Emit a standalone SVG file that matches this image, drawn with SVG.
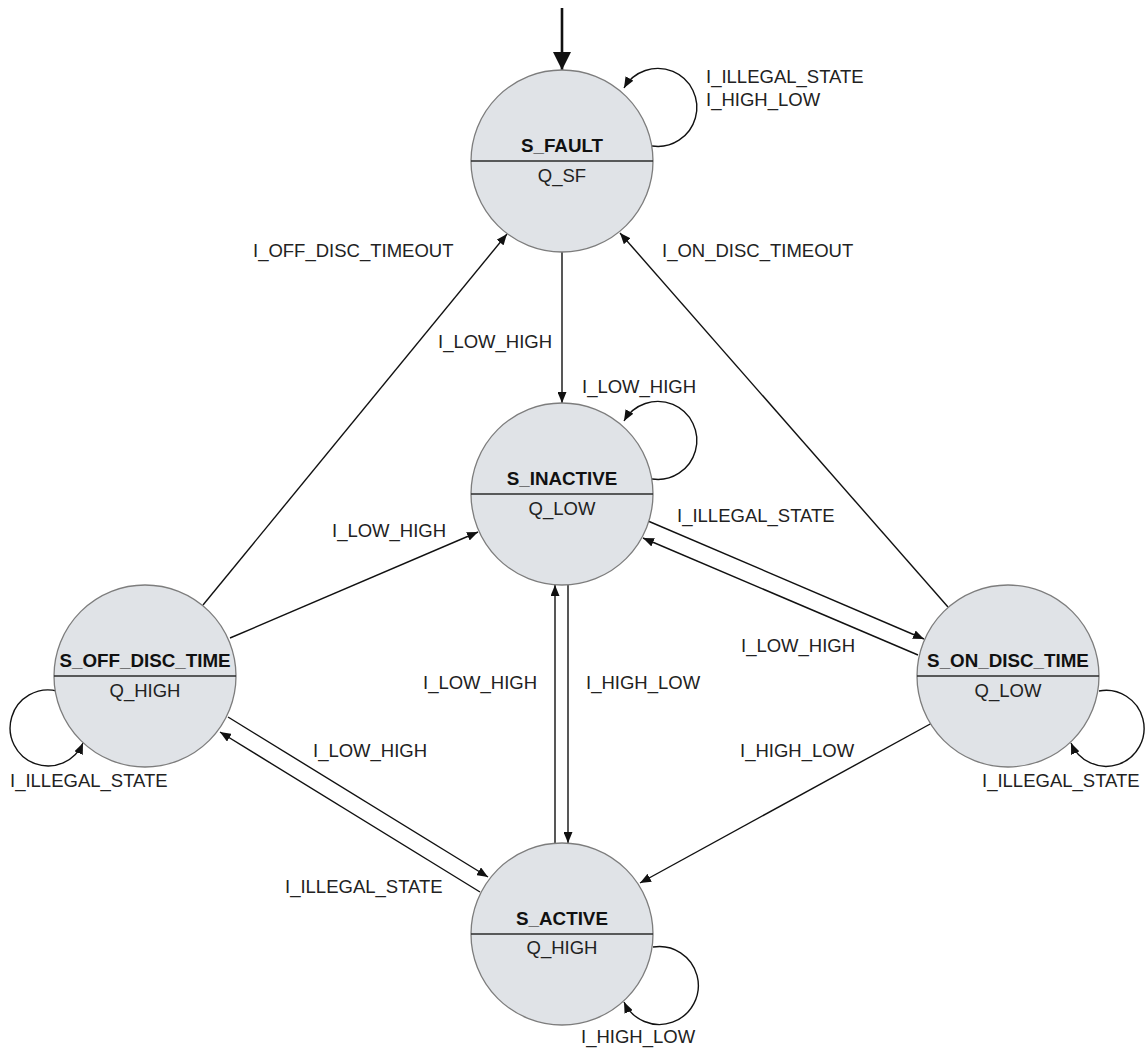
<svg xmlns="http://www.w3.org/2000/svg" width="1148" height="1050" viewBox="0 0 1148 1050">
  <style>
    .state { fill: #e0e3e7; stroke: #7d7d7d; stroke-width: 1.3; }
    .divider { stroke: #2b2b2b; stroke-width: 1.5; }
    .title { font-family: "Liberation Sans", Arial, sans-serif; font-size: 18.8px; font-weight: bold; fill: #111; text-anchor: middle; }
    .output { font-family: "Liberation Sans", Arial, sans-serif; font-size: 18.5px; fill: #222; text-anchor: middle; }
    .label { font-family: "Liberation Sans", Arial, sans-serif; font-size: 18.5px; fill: #222; }
    .edge { fill: none; stroke: #111; stroke-width: 1.4; marker-end: url(#arrow); }
  </style>
  <defs>
    <marker id="arrow" viewBox="0 0 11 9" refX="11" refY="4.5" markerWidth="11" markerHeight="9" markerUnits="userSpaceOnUse" orient="auto">
      <path d="M0,0 L11,4.5 L0,9 Z" fill="#111"/>
    </marker>
    <marker id="initArrow" viewBox="0 0 18 18" refX="18" refY="9" markerWidth="18" markerHeight="18" markerUnits="userSpaceOnUse" orient="auto">
      <path d="M0,0 L18,9 L0,18 Z" fill="#111"/>
    </marker>
  </defs>

  <rect width="1148" height="1050" fill="#ffffff"/>

  <!-- transitions -->
  <g id="connectors">
    <!-- initial transition -->
    <path d="M562 8 L562 70" fill="none" stroke="#111" stroke-width="2.6" marker-end="url(#initArrow)"/>
    <!-- self loops -->
    <path class="edge" d="M652 146 A39 39 0 1 0 624 88"/>
    <path class="edge" d="M652 479 A39 39 0 1 0 624 421"/>
    <path class="edge" d="M57 691 A38 38 0 1 0 83 743"/>
    <path class="edge" d="M1099 691 A38 38 0 1 1 1071 743"/>
    <path class="edge" d="M653 947 A39 39 0 1 1 624 1002"/>
    <!-- state to state -->
    <path class="edge" d="M562 252 L562 403"/>
    <path class="edge" d="M203 605 L507 234"/>
    <path class="edge" d="M948 607 L620 233"/>
    <path class="edge" d="M648 521 L924 639"/>
    <path class="edge" d="M918 655 L643 538"/>
    <path class="edge" d="M230 638 L478 532"/>
    <path class="edge" d="M228 717 L488 877"/>
    <path class="edge" d="M480 892 L220 732"/>
    <path class="edge" d="M555 843 L555 585"/>
    <path class="edge" d="M568 585 L568 843"/>
    <path class="edge" d="M932 723 L640 883"/>
  </g>

  <!-- transition labels -->
  <g id="labels">
    <text class="label" x="706" y="83">I_ILLEGAL_STATE</text>
    <text class="label" x="706" y="106">I_HIGH_LOW</text>
    <text class="label" x="253" y="257">I_OFF_DISC_TIMEOUT</text>
    <text class="label" x="662" y="257">I_ON_DISC_TIMEOUT</text>
    <text class="label" x="438" y="348">I_LOW_HIGH</text>
    <text class="label" x="582" y="393">I_LOW_HIGH</text>
    <text class="label" x="332" y="537">I_LOW_HIGH</text>
    <text class="label" x="677" y="522">I_ILLEGAL_STATE</text>
    <text class="label" x="741" y="652">I_LOW_HIGH</text>
    <text class="label" x="423" y="689">I_LOW_HIGH</text>
    <text class="label" x="586" y="689">I_HIGH_LOW</text>
    <text class="label" x="313" y="757">I_LOW_HIGH</text>
    <text class="label" x="740" y="757">I_HIGH_LOW</text>
    <text class="label" x="10" y="787">I_ILLEGAL_STATE</text>
    <text class="label" x="982" y="787">I_ILLEGAL_STATE</text>
    <text class="label" x="285" y="893">I_ILLEGAL_STATE</text>
    <text class="label" x="581" y="1043">I_HIGH_LOW</text>
  </g>

  <!-- states -->
  <g id="S_FAULT">
    <circle class="state" cx="562" cy="161" r="91"/>
    <line class="divider" x1="471" y1="161" x2="653" y2="161"/>
    <text class="title" x="562" y="152">S_FAULT</text>
    <text class="output" x="562" y="182">Q_SF</text>
  </g>
  <g id="S_INACTIVE">
    <circle class="state" cx="562" cy="494" r="91"/>
    <line class="divider" x1="471" y1="494" x2="653" y2="494"/>
    <text class="title" x="562" y="485">S_INACTIVE</text>
    <text class="output" x="562" y="515">Q_LOW</text>
  </g>
  <g id="S_OFF_DISC_TIME">
    <circle class="state" cx="145" cy="676" r="91"/>
    <line class="divider" x1="54" y1="676" x2="236" y2="676"/>
    <text class="title" x="145" y="667">S_OFF_DISC_TIME</text>
    <text class="output" x="145" y="697">Q_HIGH</text>
  </g>
  <g id="S_ON_DISC_TIME">
    <circle class="state" cx="1008" cy="676" r="91"/>
    <line class="divider" x1="917" y1="676" x2="1099" y2="676"/>
    <text class="title" x="1008" y="667">S_ON_DISC_TIME</text>
    <text class="output" x="1008" y="697">Q_LOW</text>
  </g>
  <g id="S_ACTIVE">
    <circle class="state" cx="562" cy="934" r="91"/>
    <line class="divider" x1="471" y1="934" x2="653" y2="934"/>
    <text class="title" x="562" y="925">S_ACTIVE</text>
    <text class="output" x="562" y="954">Q_HIGH</text>
  </g>
</svg>
